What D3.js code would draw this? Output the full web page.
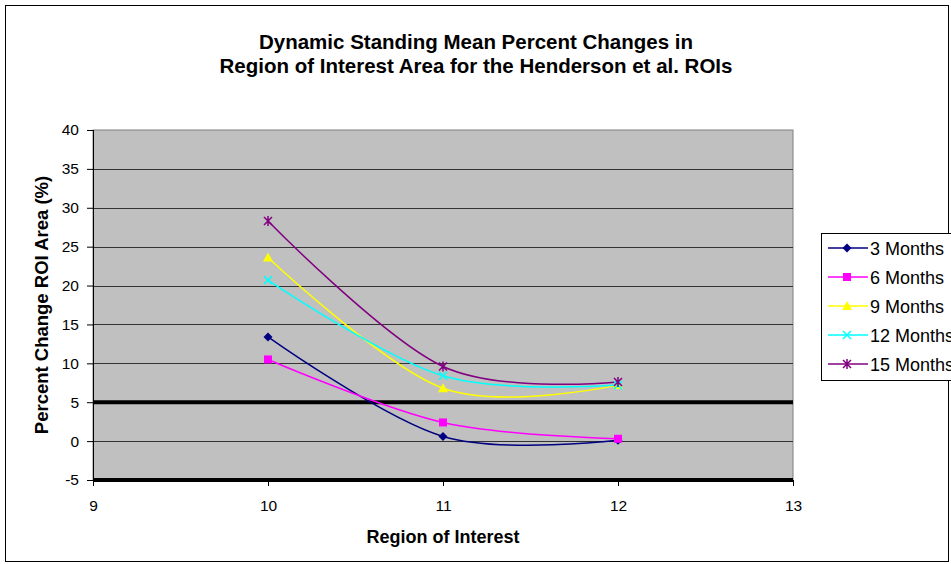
<!DOCTYPE html>
<html>
<head>
<meta charset="utf-8">
<script src="https://cdn.jsdelivr.net/npm/d3@7"></script>
<style>
  body { margin: 0; background: #fff; }
  svg text { font-family: "Liberation Sans", Arial, sans-serif; }
</style>
</head>
<body>
<div class="chart"></div>
<script>
// data
var regions = [10, 11, 12];
var seriesNames = ["3 Months", "6 Months", "9 Months", "12 Months", "15 Months"];
var months3 = [13.4, 0.6, 0.1];
var months6 = [10.5, 2.4, 0.3];
var months9 = [23.6, 6.8, 7.2];
var months12 = [20.7, 8.4, 7.2];
var months15 = [28.3, 9.6, 7.6];
var xTicks = [9, 10, 11, 12, 13];
var yTicks = [-5, 0, 5, 10, 15, 20, 25, 30, 35, 40];
var thickLines = [5, -5];

var colors = ["#000080", "#FF00FF", "#FFFF00", "#00FFFF", "#800080"];
var shapes = ["diamond", "square", "triangle", "x", "star"];
var allSeries = [months3, months6, months9, months12, months15];

var W = 951, H = 564
  , margin = {top: 130, left: 93, right: 158, bottom: 84}
  , width = W - margin.left - margin.right
  , height = H - margin.top - margin.bottom;

var svg = d3.select('.chart').append('svg')
  .attr('width', W).attr('height', H);

// outer frame
svg.append('rect').attr('x', 5.5).attr('y', 5.5).attr('width', W - 2.5 - 5.5).attr('height', H - 2.5 - 5.5)
  .attr('fill', '#fff').attr('stroke', '#000').attr('stroke-width', 1);

svg.append('text').attr('x', 476).attr('y', 49).attr('text-anchor', 'middle')
  .style('font-size', '20.5px').style('font-weight', 'bold')
  .text('Dynamic Standing Mean Percent Changes in');
svg.append('text').attr('x', 476).attr('y', 73).attr('text-anchor', 'middle')
  .style('font-size', '20.5px').style('font-weight', 'bold')
  .text('Region of Interest Area for the Henderson et al. ROIs');

var x = d3.scaleLinear().domain([9, 13]).range([0, width])
  , y = d3.scaleLinear().domain([-5, 40]).range([height, 0]);

var g = svg.append('g').attr('transform', `translate(${margin.left},${margin.top})`);

g.append('rect').attr('width', width).attr('height', height)
  .attr('fill', '#C0C0C0').attr('stroke', '#808080').attr('stroke-width', 1);

// grid lines
g.selectAll('.grid').data(yTicks.filter(d => d > -5 && d < 40 && thickLines.indexOf(d) < 0))
  .enter().append('line')
  .attr('x1', 0).attr('x2', width)
  .attr('y1', d => Math.round(y(d)) + 0.5).attr('y2', d => Math.round(y(d)) + 0.5)
  .attr('stroke', '#333').attr('stroke-width', 1);

g.selectAll('.thick').data(thickLines).enter().append('line')
  .attr('x1', 0).attr('x2', width)
  .attr('y1', d => y(d)).attr('y2', d => y(d))
  .attr('stroke', '#000').attr('stroke-width', 4);

var yAxis = d3.axisLeft(y).tickValues(yTicks).tickSize(6).tickPadding(8).tickFormat(d => String(d));
var xAxis = d3.axisBottom(x).tickValues(xTicks).tickSize(6).tickPadding(14).tickFormat(d => String(d));

var ya = g.append('g').call(yAxis);
var xa = g.append('g').attr('transform', `translate(0,${height})`).call(xAxis);
[ya, xa].forEach(function(a) {
  a.select('.domain').remove();
  a.selectAll('line').attr('stroke', '#000');
  a.selectAll('text').style('font-size', '15.5px').attr('fill', '#000');
});
g.append('line').attr('x1', 0.5).attr('x2', 0.5).attr('y1', 0).attr('y2', height + 5).attr('stroke', '#000');

// axis titles
svg.append('text').attr('x', margin.left + width / 2).attr('y', 543).attr('text-anchor', 'middle')
  .style('font-size', '18px').style('font-weight', 'bold').text('Region of Interest');
svg.append('text').attr('transform', `translate(48,${margin.top + height / 2}) rotate(-90)`)
  .attr('text-anchor', 'middle')
  .style('font-size', '18.5px').style('font-weight', 'bold').text('Percent Change ROI Area (%)');

function marker(sel, shape, color) {
  if (shape === 'diamond') {
    sel.append('path').attr('d', 'M0,-4.5L4.5,0L0,4.5L-4.5,0Z').attr('fill', color);
  } else if (shape === 'square') {
    sel.append('rect').attr('x', -4).attr('y', -4).attr('width', 8).attr('height', 8).attr('fill', color);
  } else if (shape === 'triangle') {
    sel.append('path').attr('d', 'M0,-5L5,4L-5,4Z').attr('fill', color);
  } else if (shape === 'x') {
    sel.append('path').attr('d', 'M-4,-4L4,4M-4,4L4,-4').attr('stroke', color).attr('stroke-width', 1.5);
  } else {
    sel.append('path').attr('d', 'M-4,-4L4,4M-4,4L4,-4M0,-5L0,5').attr('stroke', color).attr('stroke-width', 1.5);
  }
}

var line = d3.line()
  .x((d, i) => x(regions[i]))
  .y(d => y(d))
  .curve(d3.curveCardinal.tension(0));

allSeries.forEach(function(vals, k) {
  g.append('path').datum(vals).attr('d', line)
    .attr('fill', 'none').attr('stroke', colors[k]).attr('stroke-width', 1.5);
});
allSeries.forEach(function(vals, k) {
  vals.forEach(function(v, i) {
    var m = g.append('g').attr('transform', `translate(${x(regions[i])},${y(v)})`);
    marker(m, shapes[k], colors[k]);
  });
});

// legend (runs past the right edge, as in the original)
var leg = svg.append('g').attr('transform', 'translate(821,233)');
leg.append('rect').attr('x', 0.5).attr('y', 0.5).attr('width', 170).attr('height', 147)
  .attr('fill', '#fff').attr('stroke', '#000');
seriesNames.forEach(function(name, k) {
  var row = leg.append('g').attr('transform', `translate(0,${15 + k * 29})`);
  row.append('line').attr('x1', 7).attr('x2', 47).attr('y1', 0).attr('y2', 0)
    .attr('stroke', colors[k]).attr('stroke-width', 1.5);
  marker(row.append('g').attr('transform', 'translate(26,0)'), shapes[k], colors[k]);
  row.append('text').attr('x', 49).attr('y', 6.5).style('font-size', '18px').text(name);
});
</script>
</body>
</html>
